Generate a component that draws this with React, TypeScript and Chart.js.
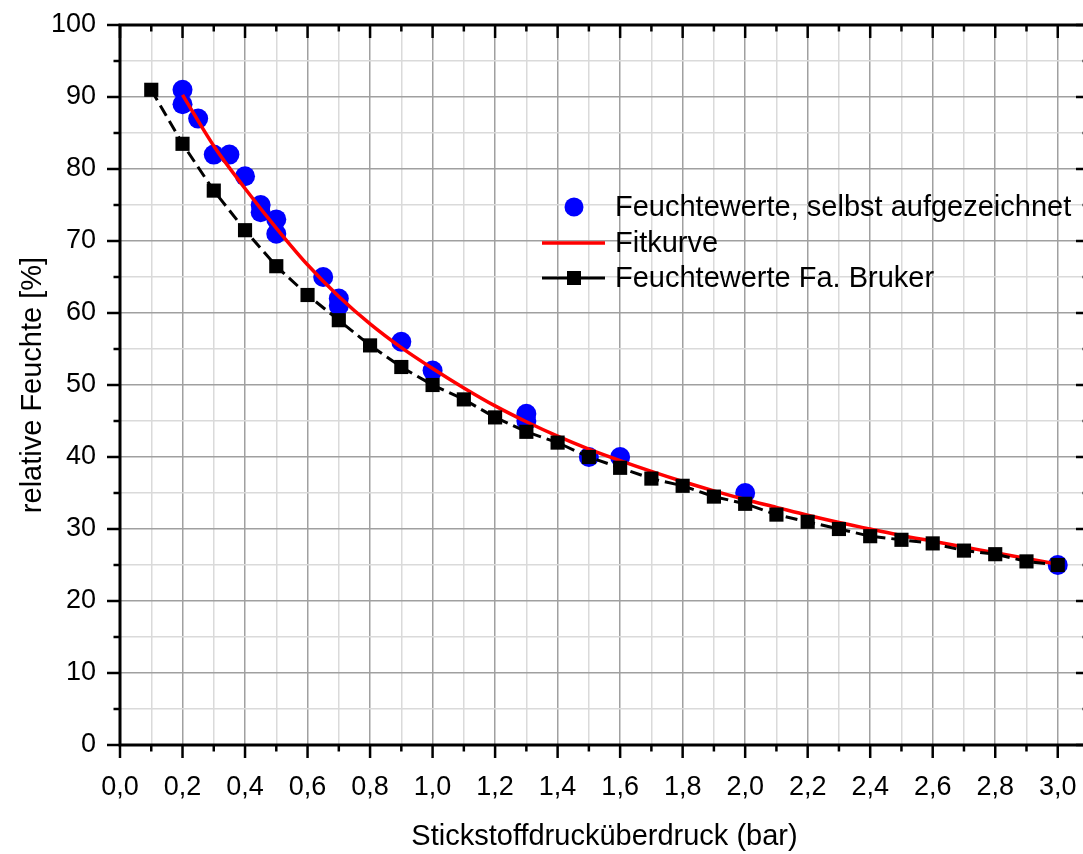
import React, { useEffect, useRef } from "react";
import { Chart, registerables } from "chart.js";
Chart.register(...registerables);

// ---- data ----
const ownX = [0.2, 0.2, 0.25, 0.3, 0.35, 0.4, 0.45, 0.45, 0.5, 0.5, 0.65, 0.7, 0.7, 0.9, 1.0, 1.3, 1.3, 1.5, 1.6, 2.0, 3.0];
const ownY = [91, 89, 87, 82, 82, 79, 75, 74, 73, 71, 65, 62, 61, 56, 52, 46, 45, 40, 40, 35, 25];

const fitX = [0.2, 0.3, 0.4, 0.5, 0.6, 0.7, 0.8, 0.9, 1.0, 1.1, 1.2, 1.3, 1.4, 1.5, 1.6, 1.7, 1.8, 1.9, 2.0, 2.1, 2.2, 2.3, 2.4, 2.5, 2.6, 2.7, 2.8, 2.9, 3.0];
const fitY = [90.3, 83.2, 77.3, 71.8, 66.7, 62.3, 58.5, 55.2, 52.3, 49.6, 47.1, 44.9, 42.9, 41.1, 39.5, 38.0, 36.6, 35.3, 34.1, 33.0, 31.9, 30.9, 30.0, 29.1, 28.3, 27.5, 26.7, 25.9, 25.1];

const brukerX = [0.1, 0.2, 0.3, 0.4, 0.5, 0.6, 0.7, 0.8, 0.9, 1.0, 1.1, 1.2, 1.3, 1.4, 1.5, 1.6, 1.7, 1.8, 1.9, 2.0, 2.1, 2.2, 2.3, 2.4, 2.5, 2.6, 2.7, 2.8, 2.9, 3.0];
const brukerY = [91, 83.5, 77, 71.5, 66.5, 62.5, 59, 55.5, 52.5, 50, 48, 45.5, 43.5, 42, 40, 38.5, 37, 36, 34.5, 33.5, 32, 31, 30, 29, 28.5, 28, 27, 26.5, 25.5, 25];

const seriesNames = ["Feuchtewerte, selbst aufgezeichnet", "Fitkurve", "Feuchtewerte Fa. Bruker"];
const xTitle = "Stickstoffdrucküberdruck (bar)";
const yTitle = "relative Feuchte [%]";
const xMin = 0, xMax = 3.1, xStep = 0.1;
const yMin = 0, yMax = 100, yStep = 5;

const FONT = "'Liberation Sans', Arial, sans-serif";
const MAJOR_GRID = "#a0a0a0";
const MINOR_GRID = "#dadada";

const framePlugin = {
  id: "frame",
  afterDraw(chart: any) {
    const { ctx, chartArea } = chart;
    const { left, right, top, bottom } = chartArea;
    const x = chart.scales.x;
    const y = chart.scales.y;
    ctx.save();
    ctx.strokeStyle = "#000";
    ctx.lineCap = "butt";
    const line = (x1: number, y1: number, x2: number, y2: number) => {
      ctx.beginPath();
      ctx.moveTo(x1, y1);
      ctx.lineTo(x2, y2);
      ctx.stroke();
    };
    ctx.lineWidth = 2.5;
    const nx = Math.round((xMax - xMin) / xStep);
    for (let i = 0; i <= nx; i++) {
      const px = x.getPixelForValue(xMin + i * xStep);
      const major = i % 2 === 0;
      const len = major ? 13 : 6.5;
      line(px, bottom, px, bottom + len);
      line(px, top, px, top + len);
    }
    const ny = Math.round((yMax - yMin) / yStep);
    for (let j = 0; j <= ny; j++) {
      const py = y.getPixelForValue(yMin + j * yStep);
      const major = j % 2 === 0;
      const len = major ? 13 : 6.5;
      line(left - len, py, left, py);
      line(right - len, py, right, py);
    }
    ctx.lineWidth = 3;
    ctx.strokeRect(left, top, right - left, bottom - top);

    // legend
    const mx = 566, tx = 607;
    const rows = [199, 235, 270];
    ctx.font = `29px ${FONT}`;
    ctx.textBaseline = "middle";
    ctx.textAlign = "left";
    ctx.fillStyle = "#0000ff";
    ctx.beginPath();
    ctx.arc(mx, rows[0], 9.5, 0, Math.PI * 2);
    ctx.fill();
    ctx.strokeStyle = "#ff0000";
    ctx.lineWidth = 3.5;
    line(534, rows[1], 597, rows[1]);
    ctx.strokeStyle = "#000";
    ctx.lineWidth = 3;
    line(534, rows[2], 597, rows[2]);
    ctx.fillStyle = "#000";
    ctx.fillRect(mx - 7, rows[2] - 7, 14, 14);
    rows.forEach((ry, k) => ctx.fillText(seriesNames[k], tx, ry + 1));
    ctx.restore();
  },
};

export default function App() {
  const ref = useRef<HTMLCanvasElement>(null);
  useEffect(() => {
    const canvas = ref.current!;
    const chart = new Chart(canvas, {
      type: "scatter",
      data: {
        datasets: [
          {
            label: seriesNames[2],
            data: brukerX.map((v, i) => ({ x: v, y: brukerY[i] })),
            showLine: true,
            borderColor: "#000",
            borderWidth: 3,
            borderDash: [12, 6],
            backgroundColor: "#000",
            pointStyle: "rect",
            pointRadius: 10,
            pointBorderWidth: 0,
            pointBackgroundColor: "#000",
          },
          {
            label: seriesNames[1],
            data: fitX.map((v, i) => ({ x: v, y: fitY[i] })),
            showLine: true,
            borderColor: "#ff0000",
            borderWidth: 3.5,
            pointRadius: 0,
            cubicInterpolationMode: "monotone",
          },
          {
            label: seriesNames[0],
            data: ownX.map((v, i) => ({ x: v, y: ownY[i] })),
            showLine: false,
            pointStyle: "circle",
            pointRadius: 10,
            pointBorderWidth: 0,
            backgroundColor: "#0000ff",
            pointBackgroundColor: "#0000ff",
          },
        ],
      },
      options: {
        responsive: false,
        animation: false,
        devicePixelRatio: 1,
        layout: { padding: { top: 17, right: 19, left: 0, bottom: 0 } },
        plugins: { legend: { display: false }, tooltip: { enabled: false } },
        scales: {
          x: {
            type: "linear",
            min: xMin,
            max: xMax,
            afterFit: (s: any) => { s.height = 109; s.paddingLeft = 0; s.paddingRight = 0; },
            ticks: {
              stepSize: xStep,
              autoSkip: false,
              maxRotation: 0,
              color: "#000",
              padding: 26,
              font: { family: FONT, size: 27 },
              callback: (v: any) => {
                const n = Math.round(Number(v) * 10);
                return n % 2 === 0 && n <= 30 ? (n / 10).toFixed(1).replace(".", ",") : "";
              },
            },
            grid: {
              drawTicks: false,
              lineWidth: 1.5,
              color: (c: any) => (c.tick && Math.round(c.tick.value * 10) % 2 === 0 ? MAJOR_GRID : MINOR_GRID),
            },
            border: { display: false },
            title: { display: true, text: xTitle, color: "#000", font: { family: FONT, size: 29 }, padding: { top: 0, bottom: 0 } },
          },
          y: {
            type: "linear",
            min: yMin,
            max: yMax,
            afterFit: (s: any) => { s.width = 112; s.paddingTop = 0; s.paddingBottom = 0; },
            ticks: {
              stepSize: yStep,
              autoSkip: false,
              color: "#000",
              padding: 24,
              font: { family: FONT, size: 27 },
              callback: (v: any) => {
                const n = Math.round(Number(v));
                return n % 10 === 0 ? String(n) : "";
              },
            },
            grid: {
              drawTicks: false,
              lineWidth: 1.5,
              color: (c: any) => (c.tick && Math.round(c.tick.value) % 10 === 0 ? MAJOR_GRID : MINOR_GRID),
            },
            border: { display: false },
            title: { display: true, text: yTitle, color: "#000", font: { family: FONT, size: 29 }, padding: { top: 8, bottom: 0 } },
          },
        },
      },
      plugins: [framePlugin],
    });
    return () => chart.destroy();
  }, []);
  return (
    <div style={{ position: "absolute", top: 8, left: 8, width: 1075, height: 846, overflow: "hidden" }}>
      <canvas ref={ref} width={1100} height={846} style={{ width: 1100, height: 846, display: "block" }} />
    </div>
  );
}
